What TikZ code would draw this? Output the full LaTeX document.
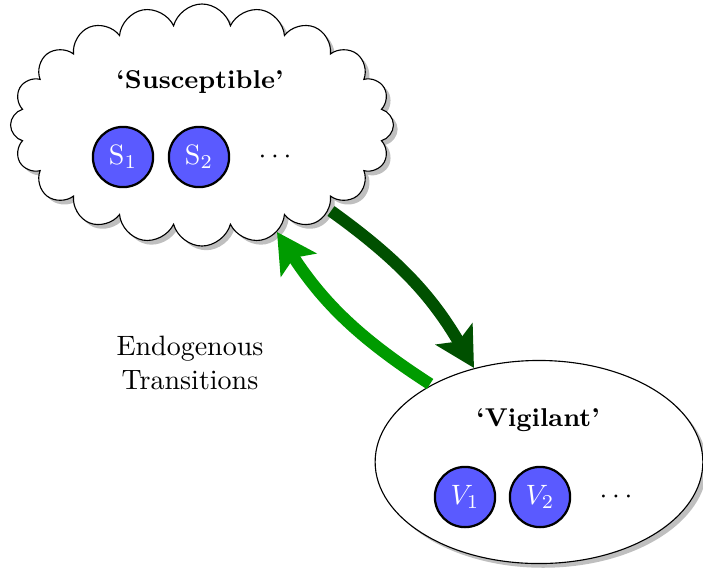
\documentclass[tikz,border=0pt]{standalone}
\usetikzlibrary{shapes.symbols,shapes.geometric,shadows,arrows.meta}
\definecolor{darkg}{RGB}{0,80,0}
\definecolor{lightg}{RGB}{0,155,0}
\definecolor{agent}{RGB}{90,90,255}
\begin{document}
\begin{tikzpicture}[x=0.357pt,y=-0.357pt,
  shad/.style={drop shadow={shadow xshift=1.5pt,shadow yshift=-1.5pt,fill=black!25,opacity=1}},
  agentnode/.style={circle,draw,line width=0.8pt,fill=agent,text=white,minimum size=21.5pt,inner sep=0pt},
  trans/.style={line width=4.3pt,-{Stealth[length=14pt,width=15pt,inset=3pt]}},
  title/.style={font=\fontsize{9.2}{11}\selectfont\bfseries},
  plain/.style={align=center}]
\useasboundingbox (0,0) rectangle (703,577);
\node[cloud, cloud puffs=20, cloud ignores aspect, draw, fill=white, shad,
      minimum width=136.7pt, minimum height=86.4pt, inner sep=0pt] (cloud) at (202,125) {};
\node[ellipse, draw, fill=white, shad, minimum width=117pt, minimum height=72.5pt, inner sep=0pt] (vig) at (539,462) {};
\node[title] (st) at (200,82) {`Susceptible'};
\node[agentnode] (s1) at (123,157) {S$_1$};
\node[agentnode] (s2) at (199,157) {S$_2$};
\node (sd) at (275,157) {$\cdots$};
\node[title] (vt) at (538,420) {`Vigilant'};
\node[agentnode] (v1) at (465,497) {$V_1$};
\node[agentnode] (v2) at (540,497) {$V_2$};
\node (vd) at (616,497) {$\cdots$};
\node[plain] (endo) at (190,363) {Endogenous\\Transitions};
\coordinate (a1) at (331,211);
\coordinate (a2) at (474,368);
\coordinate (b1) at (430,384);
\coordinate (b2) at (277,232);
\draw[trans, darkg] (a1) to[bend left=12] (a2);
\draw[trans, lightg] (b1) to[bend left=12] (b2);
\end{tikzpicture}
\end{document}
